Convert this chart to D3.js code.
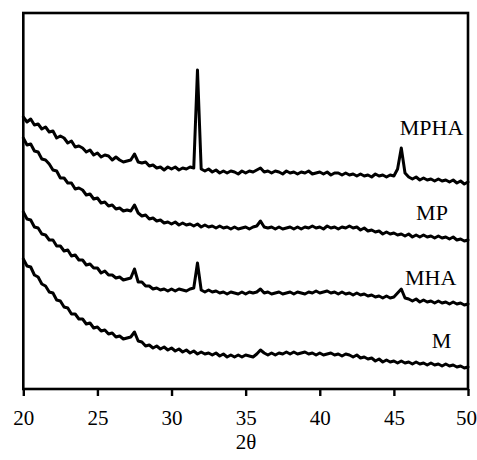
<!DOCTYPE html>
<html><head><meta charset="utf-8">
<script src="https://cdn.jsdelivr.net/npm/d3@7"></script>
<style>body{margin:0;background:#fff}</style>
</head><body>
<svg id="c" width="477" height="460"></svg>
<script>
// 2θ scan grid: 20..50 step 0.25
const twoTheta = d3.range(0, 121).map(i => 20 + i * 0.25);
const xTicks = [20, 25, 30, 35, 40, 45, 50];
const seriesNames = ["MPHA", "MP", "MHA", "M"];

const MPHA = [272,267,270,264,265,260,262,257,258,251,253,251,246,248,242,243,241,237,239,234,236,232,234,233,229,232,229,227,228,229,235,227,226,227,223,224,221,222,219,222,220,222,219,221,220,222,221,319,220,218,220,217,219,216,218,216,218,217,215,218,216,218,217,219,221,217,218,216,218,217,215,218,216,217,215,217,216,218,215,216,217,215,217,214,216,216,214,216,214,215,213,215,213,214,212,215,213,214,212,214,213,220,241,216,212,210,212,209,211,209,210,208,210,208,209,207,209,206,208,205,207];
const MP = [251,244,245,238,237,230,229,225,219,218,211,211,206,206,200,201,199,194,195,190,191,186,187,183,184,180,181,178,179,178,184,176,173,174,170,171,168,169,166,167,165,167,164,166,164,165,163,165,162,164,162,163,161,163,161,162,160,162,160,161,162,160,162,163,168,162,161,162,160,162,160,161,162,160,162,160,162,161,163,161,162,160,163,161,162,160,162,161,163,161,162,159,161,158,159,157,158,155,157,155,156,154,155,153,155,152,154,152,154,152,153,151,153,151,152,150,152,149,150,148,149];
const MHA = [177,170,169,162,161,155,154,149,149,143,143,138,139,133,134,129,129,124,125,121,121,116,118,114,114,111,112,109,110,111,120,107,107,103,103,100,101,99,100,98,100,98,100,99,98,100,101,126,99,97,99,97,98,96,97,95,97,96,95,97,95,97,96,97,100,96,97,95,96,97,95,96,97,95,97,96,95,97,96,98,96,97,98,96,97,95,97,95,96,94,96,94,95,93,94,92,93,91,93,91,92,96,100,91,90,88,90,87,89,87,88,86,88,86,87,85,87,85,86,84,85];
const M = [130,123,122,114,112,105,103,97,96,89,88,82,81,75,75,70,70,65,66,61,62,58,59,55,56,52,53,50,51,52,57,48,47,43,44,41,43,40,42,39,41,38,40,37,39,36,38,35,37,35,36,34,36,33,35,32,34,32,34,32,34,33,32,35,39,36,34,36,34,36,35,37,35,37,35,36,37,35,36,34,36,34,35,36,34,35,33,35,34,32,34,31,32,30,31,28,30,27,29,27,28,26,28,26,27,25,27,25,26,24,26,24,25,23,25,23,24,22,23,21,22];
const series = [MPHA, MP, MHA, M];
// label anchor (2θ, intensity)
const labelX = [45.4, 46.5, 45.75, 47.55];
const labelY = [254, 169, 104, 41];

const svg = d3.select("#c");
const L = 23.3, R = 468, T = 13, B = 389;
const x = d3.scaleLinear().domain([20, 50]).range([L, R]);
const y = d3.scaleLinear().domain([0, 376]).range([B, T]);
const font = "'Liberation Serif','Times New Roman',serif";

const line = d3.line().x((d, i) => x(twoTheta[i])).y(d => y(d));
series.forEach(s => {
  svg.append("path").attr("d", line(s)).attr("fill", "none")
    .attr("stroke", "#000").attr("stroke-width", 3)
    .attr("stroke-linejoin", "round").attr("stroke-linecap", "round");
});

svg.append("rect").attr("x", L).attr("y", T).attr("width", R - L).attr("height", B - T)
  .attr("fill", "none").attr("stroke", "#000").attr("stroke-width", 2.6);

const ax = svg.append("g").attr("transform", `translate(0,${B})`)
  .call(d3.axisBottom(x).tickValues(xTicks).tickSize(7).tickSizeOuter(0).tickPadding(14));
ax.select(".domain").remove();
ax.selectAll("line").attr("stroke", "#000").attr("stroke-width", 2.4);
ax.selectAll("text").attr("font-family", font).attr("font-size", 21).attr("fill", "#000")
  .attr("dx", d => d === 50 ? -2 : 0);

svg.append("text").attr("x", 246).attr("y", 449).attr("text-anchor", "middle")
  .attr("font-family", font).attr("font-size", 21).text("2θ");

seriesNames.forEach((n, i) => {
  svg.append("text").attr("x", x(labelX[i])).attr("y", y(labelY[i]))
    .attr("font-family", font).attr("font-size", 22).text(n);
});
</script>
</body></html>
